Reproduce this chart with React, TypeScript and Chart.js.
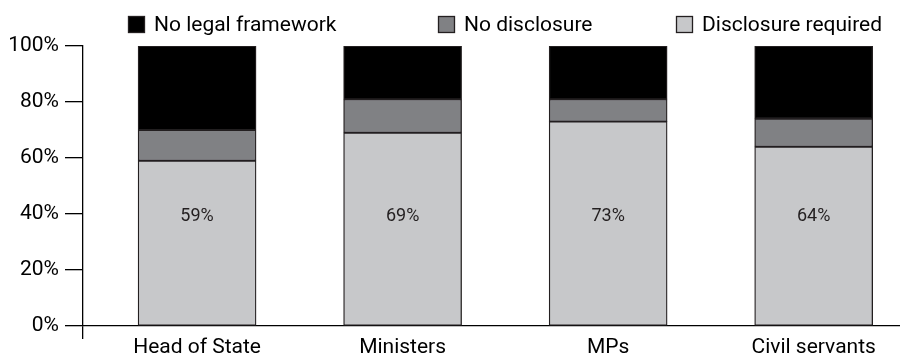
import React, { useEffect, useRef } from "react";
import { Chart, registerables } from "chart.js";

Chart.register(...registerables);

const categories = ["Head of State", "Ministers", "MPs", "Civil servants"];
const disclosureRequired = [59, 69, 73, 64];
const noDisclosure = [11, 12, 8, 10];
const noLegalFramework = [30, 19, 19, 26];
const seriesNames = ["Disclosure required", "No disclosure", "No legal framework"];
const seriesColors = ["#c7c8ca", "#808184", "#000000"];
const yTicks = [0, 20, 40, 60, 80, 100];
const valueLabels = ["59%", "69%", "73%", "64%"];

const FONT = "Roboto, 'Noto Sans', sans-serif";
const X_MIN = -0.555;
const X_MAX = 3.42;

const legendPlugin = {
  id: "customLegend",
  afterDraw(chart: any, _args: any, opts: any) {
    const ctx = chart.ctx;
    const order = [2, 1, 0];
    ctx.save();
    ctx.font = `${opts.fontSize}px ${FONT}`;
    ctx.textBaseline = "middle";
    ctx.textAlign = "left";
    order.forEach((dsIndex, i) => {
      const ds = chart.data.datasets[dsIndex];
      const x = opts.starts[i];
      ctx.fillStyle = ds.backgroundColor;
      ctx.fillRect(x, opts.top, opts.box, opts.box);
      ctx.lineWidth = 1.3;
      ctx.strokeStyle = "#231f20";
      ctx.strokeRect(x + 0.5, opts.top + 0.5, opts.box - 1, opts.box - 1);
      ctx.fillStyle = "#000";
      ctx.fillText(ds.label, x + opts.box + opts.gap, opts.top + opts.box / 2 + 1);
    });
    ctx.restore();
  },
};

const valueLabelPlugin = {
  id: "valueLabels",
  afterDatasetsDraw(chart: any, _args: any, opts: any) {
    const ctx = chart.ctx;
    const meta = chart.getDatasetMeta(0);
    const yScale = chart.scales.y;
    ctx.save();
    ctx.font = `${opts.fontSize}px ${FONT}`;
    ctx.fillStyle = "#231f20";
    ctx.textAlign = "center";
    ctx.textBaseline = "middle";
    meta.data.forEach((el: any, i: number) => {
      ctx.fillText(valueLabels[i], el.x, yScale.getPixelForValue(opts.at));
    });
    ctx.restore();
  },
};

export default function App() {
  const ref = useRef<HTMLCanvasElement | null>(null);

  useEffect(() => {
    document.body.style.margin = "0";
    const values = [disclosureRequired, noDisclosure, noLegalFramework];
    const chart = new Chart(ref.current as HTMLCanvasElement, {
      type: "bar",
      data: {
        datasets: values.map((arr, k) => ({
          label: seriesNames[k],
          data: arr.map((v, i) => ({ x: i, y: v })),
          backgroundColor: seriesColors[k],
          borderColor: "#231f20",
          borderWidth: 1.3,
          borderSkipped: false,
          barThickness: 118,
        })),
      },
      options: {
        animation: false,
        responsive: true,
        maintainAspectRatio: false,
        layout: { padding: { top: 46, left: 0, right: 0, bottom: 0 } },
        plugins: {
          legend: { display: false },
          tooltip: { enabled: false },
          customLegend: { starts: [128, 438, 676], top: 16, box: 17, gap: 9, fontSize: 21 },
          valueLabels: { at: 39, fontSize: 18 },
        } as any,
        scales: {
          x: {
            type: "linear",
            min: X_MIN,
            max: X_MAX,
            offset: false,
            stacked: true,
            afterBuildTicks: (scale: any) => {
              scale.ticks = [{ value: X_MIN }, ...categories.map((_, i) => ({ value: i }))];
            },
            afterFit: (scale: any) => {
              scale.height = 31;
            },
            border: { display: true, color: "#000", width: 1.3 },
            grid: {
              display: true,
              offset: false,
              drawOnChartArea: false,
              drawTicks: true,
              tickLength: 13,
              lineWidth: 1.3,
              color: (c: any) => (c.tick && c.tick.value === X_MIN ? "#000" : "rgba(0,0,0,0)"),
            },
            ticks: {
              autoSkip: false,
              maxRotation: 0,
              padding: -2,
              color: "#000",
              font: { family: FONT, size: 21, lineHeight: 1 },
              callback: (v: any) => (Number.isInteger(v) ? categories[v] : ""),
            },
          },
          y: {
            min: 0,
            max: 100,
            stacked: true,
            afterBuildTicks: (scale: any) => {
              scale.ticks = yTicks.map((v) => ({ value: v }));
            },
            afterFit: (scale: any) => {
              scale.width = 83;
            },
            border: { display: true, color: "#000", width: 1.3 },
            grid: {
              display: true,
              drawOnChartArea: false,
              drawTicks: true,
              tickLength: 18,
              lineWidth: 1.3,
              color: "#000",
            },
            ticks: {
              padding: 6,
              color: "#000",
              font: { family: FONT, size: 21, lineHeight: 1 },
              callback: (v: any) => `${v}%`,
            },
          },
        },
      },
      plugins: [legendPlugin, valueLabelPlugin],
    });
    return () => chart.destroy();
  }, []);

  return (
    <div style={{ width: 900, height: 357, position: "relative" }}>
      <canvas ref={ref} />
    </div>
  );
}
